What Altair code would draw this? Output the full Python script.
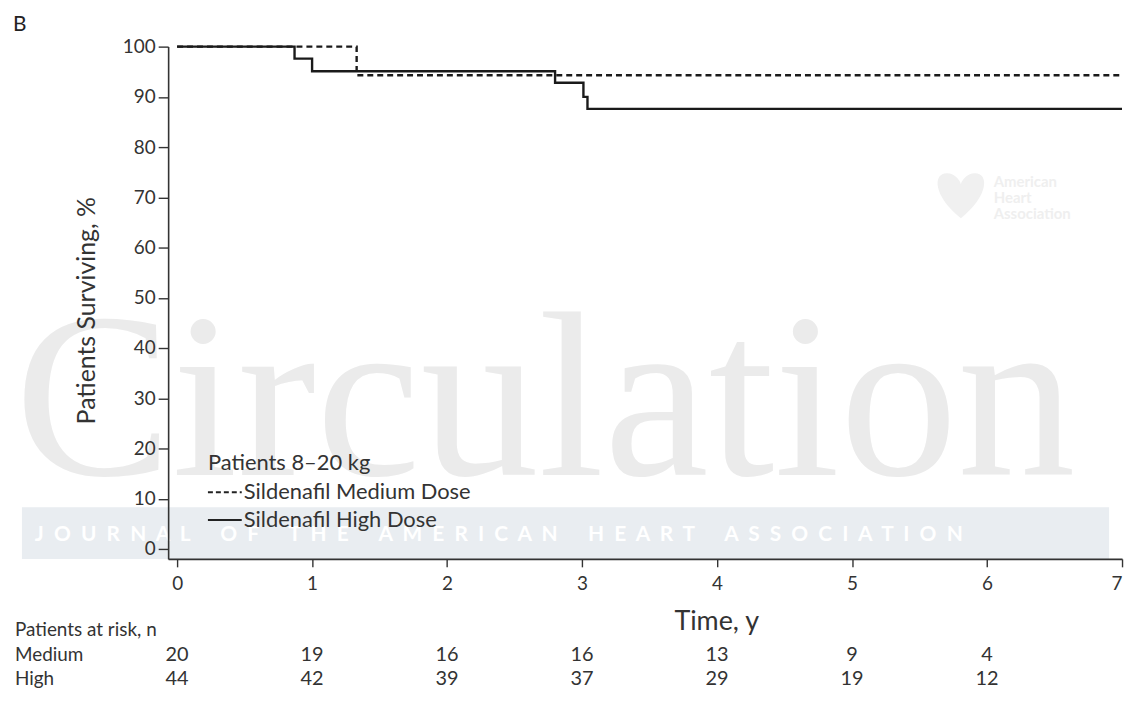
import altair as alt
import pandas as pd

# ---------------- data ----------------
high_time = [0.0, 0.87, 1.0, 2.80, 3.01, 3.04, 7.0]
high_surv = [100.0, 97.6, 95.1, 92.8, 90.0, 87.6, 87.6]
med_time = [0.0, 1.33, 7.0]
med_surv = [100.0, 94.3, 94.3]

risk_years = [0, 1, 2, 3, 4, 5, 6]
risk_medium = [20, 19, 16, 16, 13, 9, 4]
risk_high = [44, 42, 39, 37, 29, 19, 12]

x_ticks = [0, 1, 2, 3, 4, 5, 6, 7]
y_ticks = [0, 10, 20, 30, 40, 50, 60, 70, 80, 90, 100]

FONT = "Lato"
INK = "#333333"
NB = "\u00a0"

km = pd.DataFrame(
    {"time": high_time + med_time,
     "surv": high_surv + med_surv,
     "group": ["High"] * len(high_time) + ["Medium"] * len(med_time)}
)
risk = pd.DataFrame({"time": risk_years, "med": risk_medium, "high": risk_high})
one = pd.DataFrame({"a": [0]})

W, H = 959, 515
xscale = alt.Scale(domain=[-0.0664, 7.0], nice=False, zero=False)
yscale = alt.Scale(domain=[-1.98, 100], nice=False, zero=False)

# watermark band
band = alt.Chart(one).mark_rect(color="#e9edf1").encode(
    x=alt.value(-147), x2=alt.value(946), y=alt.value(463), y2=alt.value(515)
)
words = ["JOURNAL", "OF", "THE", "AMERICAN", "HEART", "ASSOCIATION"]
band_str = (NB * 6).join((NB * 2).join(list(w)) for w in words)
band_text = alt.Chart(one).mark_text(
    font=FONT, fontSize=21, fontWeight="bold", color="#ffffff", align="left", baseline="middle"
).encode(x=alt.value(-134), y=alt.value(491), text=alt.value(band_str))
watermark = alt.Chart(one).mark_text(
    font="Liberation Serif", fontSize=237, color="#ebebeb", align="center", baseline="alphabetic"
).encode(x=alt.value(379), y=alt.value(431), text=alt.value("Circulation"))

heart = alt.Chart(one).mark_point(
    shape="M0,0.8 C-1,0 -1,-0.8 -0.5,-0.8 C-0.2,-0.8 0,-0.5 0,-0.4 C0,-0.5 0.2,-0.8 0.5,-0.8 C1,-0.8 1,0 0,0.8 Z",
    filled=True, color="#f0f0f0", size=3200, opacity=1,
).encode(x=alt.value(797), y=alt.value(150))
aha = alt.Chart(pd.DataFrame({"t": ["American", "Heart", "Association"], "dy": [136, 152, 168]})).mark_text(
    font=FONT, fontSize=15, fontWeight="bold", color="#efefef", align="left", baseline="middle"
).encode(x=alt.value(830), y=alt.Y("dy:Q", scale=None), text="t:N")

# survival curves
lines = alt.Chart(km).mark_line(interpolate="step-after", strokeWidth=2.4, color="#1a1a1a").encode(
    x=alt.X("time:Q", scale=xscale,
            axis=alt.Axis(values=x_ticks, title="Time, y", grid=False, format="d", zindex=1,
                          titleX=551, titleY=63, titleBaseline="middle", titleAlign="center",
                          titleFontSize=27, titleFontWeight="normal", titleColor=INK, titleFont=FONT)),
    y=alt.Y("surv:Q", scale=yscale,
            axis=alt.Axis(values=y_ticks, title="Patients Surviving, %", grid=False, format="d", zindex=1,
                          titleX=-82, titleY=265, titleAngle=270, titleBaseline="middle",
                          titleAlign="center", titleFontSize=25, titleFontWeight="normal",
                          titleColor=INK, titleFont=FONT)),
    strokeDash=alt.StrokeDash("group:N", scale=alt.Scale(domain=["High", "Medium"], range=[[1, 0], [6, 4]]),
                              legend=None),
    detail="group:N",
)

# manual legend
LEG = 22
leg_title = alt.Chart(one).mark_text(font=FONT, fontSize=LEG, color=INK, align="left", baseline="middle").encode(
    x=alt.value(40), y=alt.value(419), text=alt.value("Patients 8\u201320 kg"))
leg_med_line = alt.Chart(one).mark_rule(strokeWidth=2, color="#222222", strokeDash=[5, 3]).encode(
    x=alt.value(40), x2=alt.value(74), y=alt.value(448))
leg_med_txt = alt.Chart(one).mark_text(font=FONT, fontSize=LEG, color=INK, align="left", baseline="middle").encode(
    x=alt.value(76), y=alt.value(448), text=alt.value("Sildenafil Medium Dose"))
leg_high_line = alt.Chart(one).mark_rule(strokeWidth=2, color="#222222").encode(
    x=alt.value(40), x2=alt.value(74), y=alt.value(476))
leg_high_txt = alt.Chart(one).mark_text(font=FONT, fontSize=LEG, color=INK, align="left", baseline="middle").encode(
    x=alt.value(76), y=alt.value(476), text=alt.value("Sildenafil High Dose"))

# risk table
RISK = 20
ROW_PAR, ROW_MED, ROW_HIGH = 587, 612, 636
risk_med = alt.Chart(risk).mark_text(font=FONT, fontSize=RISK, color=INK, align="center", baseline="middle").encode(
    x=alt.X("time:Q", scale=xscale), y=alt.value(ROW_MED), text="med:Q")
risk_hi = alt.Chart(risk).mark_text(font=FONT, fontSize=RISK, color=INK, align="center", baseline="middle").encode(
    x=alt.X("time:Q", scale=xscale), y=alt.value(ROW_HIGH), text="high:Q")
row_labels = alt.Chart(pd.DataFrame({"t": ["Patients at risk, n", "Medium", "High"],
                                     "py": [ROW_PAR, ROW_MED, ROW_HIGH]})).mark_text(
    font=FONT, fontSize=19, color=INK, align="left", baseline="middle"
).encode(x=alt.value(-154), y=alt.Y("py:Q", scale=None), text="t:N")

panel = alt.Chart(one).mark_text(font=FONT, fontSize=21, color="#222222", align="left", baseline="middle").encode(
    x=alt.value(-156), y=alt.value(-22), text=alt.value("B"))

chart = alt.layer(
    band, watermark, band_text, heart, aha,
    lines,
    leg_title, leg_med_line, leg_med_txt, leg_high_line, leg_high_txt,
    risk_med, risk_hi, row_labels, panel,
).properties(
    width=W, height=H,
    autosize=alt.AutoSizeParams(type="none"),
    padding={"left": 161, "top": 37, "right": 6, "bottom": 132},
).configure_view(stroke=None).configure_axis(
    labelFont=FONT, labelFontSize=19, labelColor=INK, domainColor=INK, tickColor=INK,
    domainWidth=1.6, tickWidth=1.4,
).configure_axisX(tickSize=8, labelPadding=8).configure_axisY(tickSize=10, labelPadding=3)

chart.save("out.html", embed_options={"renderer": "svg", "actions": False})
